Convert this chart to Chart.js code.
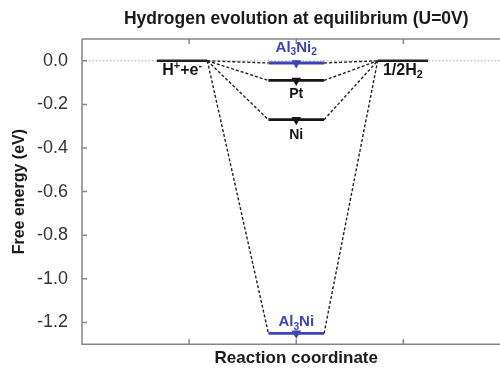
<!DOCTYPE html>
<html><head><meta charset="utf-8">
<script src="https://cdn.jsdelivr.net/npm/chart.js@4/dist/chart.umd.min.js"></script>
<style>html,body{margin:0;padding:0;background:#fff;overflow:hidden;width:500px;height:369px}#wrap{width:500px;height:369px;overflow:hidden}canvas{display:block}</style>
</head><body><div id="wrap"><canvas id="c" width="516" height="369"></canvas></div>
<script>
// ---- data ----
const catalysts = ['Al3Ni2', 'Pt', 'Ni', 'Al3Ni'];
const deltaG = [-0.01, -0.09, -0.27, -1.25];          // eV, adsorbed H* level
const initialState = [0.70, 1.17];                    // H+ + e- level span (reaction coordinate)
const intermediateState = [1.74, 2.26];               // H* level span
const finalState = [2.76, 3.23];                      // 1/2 H2 level span
const referenceEnergy = 0;                            // eV of initial/final states
const yTickValues = [0.0, -0.2, -0.4, -0.6, -0.8, -1.0, -1.2];
const xTickValues = [1, 2, 3];
const xRange = [0, 4];
const yRange = [-1.3, 0.1];

// ---- styles ----
const FONT = '"Liberation Sans", Arial, Helvetica, sans-serif';
const BLUE = '#3a45b5';
const DARK = '#151515';
const catalystColor = { Al3Ni2: BLUE, Pt: DARK, Ni: DARK, Al3Ni: BLUE };
const catalystLabel = { Al3Ni2: { dy: -11, size: 15 }, Pt: { dy: 18, size: 14 }, Ni: { dy: 19, size: 14 }, Al3Ni: { dy: -7, size: 15 } };

Chart.defaults.font.family = FONT;

const mid = a => (a[0] + a[1]) / 2;
const datasets = [];

// y = 0 dotted reference
datasets.push({ data: [{ x: xRange[0], y: referenceEnergy }, { x: xRange[1], y: referenceEnergy }],
  showLine: true, borderColor: '#a8a8a8', borderWidth: 1, borderDash: [1.5, 2], pointRadius: 0, order: 9 });

// initial and final states
[initialState, finalState].forEach(s => datasets.push({
  data: [{ x: s[0], y: referenceEnergy }, { x: s[1], y: referenceEnergy }],
  showLine: true, borderColor: '#202020', borderWidth: 2.5, pointRadius: 0, order: 3 }));

catalysts.forEach((name, i) => {
  const E = deltaG[i];
  datasets.push({ data: [{ x: initialState[1], y: referenceEnergy }, { x: intermediateState[0], y: E }],
    showLine: true, borderColor: '#222', borderWidth: 1.4, borderDash: [3, 2], pointRadius: 0, order: 6 });
  datasets.push({ data: [{ x: intermediateState[1], y: E }, { x: finalState[0], y: referenceEnergy }],
    showLine: true, borderColor: '#222', borderWidth: 1.4, borderDash: [3, 2], pointRadius: 0, order: 6 });
  datasets.push({ data: [{ x: intermediateState[0], y: E }, { x: intermediateState[1], y: E }],
    showLine: true, borderColor: catalystColor[name], borderWidth: 2.8, pointRadius: 0, order: 2 });
  datasets.push({ data: [{ x: mid(intermediateState), y: E }], showLine: false,
    pointStyle: 'triangle', rotation: 180, pointRadius: 5.5, pointBorderWidth: 0,
    pointBackgroundColor: catalystColor[name], pointBorderColor: catalystColor[name], order: 1 });
});

function drawRich(ctx, segs, cx, baseY, size, color) {
  ctx.fillStyle = color; ctx.textAlign = 'left'; ctx.textBaseline = 'alphabetic';
  const parts = segs.map(s => {
    const fs = s[1] ? size * 0.68 : size;
    ctx.font = `bold ${fs}px ${FONT}`;
    return { t: s[0], k: s[1], fs, w: ctx.measureText(s[0]).width };
  });
  const total = parts.reduce((a, p) => a + p.w, 0);
  let x = cx - total / 2;
  for (const p of parts) {
    ctx.font = `bold ${p.fs}px ${FONT}`;
    const dy = p.k === 'sub' ? size * 0.22 : p.k === 'sup' ? -size * 0.38 : 0;
    ctx.fillText(p.t, x, baseY + dy);
    x += p.w;
  }
}
const chemSegs = name => name.split(/(\d+)/).filter(Boolean).map(t => /\d/.test(t) ? [t, 'sub'] : [t]);

const decor = {
  id: 'decor',
  afterDatasetsDraw(chart) {
    const { ctx, chartArea: a, scales: { x, y } } = chart;
    ctx.save();
    ctx.strokeStyle = '#858585'; ctx.lineWidth = 1.5;
    ctx.beginPath();
    ctx.moveTo(a.left, a.top); ctx.lineTo(a.right, a.top);
    ctx.moveTo(a.left, a.top); ctx.lineTo(a.left, a.bottom); ctx.lineTo(a.right, a.bottom);
    for (const t of y.ticks) { const py = y.getPixelForValue(t.value); ctx.moveTo(a.left, py); ctx.lineTo(a.left + 5, py); }
    for (const t of x.ticks) { const px = x.getPixelForValue(t.value);
      ctx.moveTo(px, a.top); ctx.lineTo(px, a.top + 5); ctx.moveTo(px, a.bottom); ctx.lineTo(px, a.bottom - 5); }
    ctx.stroke();
    const y0 = y.getPixelForValue(referenceEnergy);
    drawRich(ctx, [['H'], ['+', 'sup'], ['+e'], ['-', 'sup']], x.getPixelForValue(mid(initialState)), y0 + 14, 16, DARK);
    drawRich(ctx, [['1/2H'], ['2', 'sub']], x.getPixelForValue(mid(finalState)), y0 + 14, 16, DARK);
    catalysts.forEach((name, i) => {
      const st = catalystLabel[name];
      drawRich(ctx, chemSegs(name), x.getPixelForValue(mid(intermediateState)), y.getPixelForValue(deltaG[i]) + st.dy, st.size, catalystColor[name]);
    });
    ctx.restore();
  }
};

new Chart(document.getElementById('c'), {
  type: 'scatter',
  data: { datasets },
  options: {
    responsive: false, animation: false, devicePixelRatio: 1,
    layout: { padding: 0 },
    plugins: {
      legend: { display: false }, tooltip: { enabled: false },
      title: { display: true, text: 'Hydrogen evolution at equilibrium (U=0V)', fullSize: false,
        font: { size: 17.5, weight: 'bold', lineHeight: 1.2 }, color: '#1a1a1a', padding: { top: 9, bottom: 9 } }
    },
    scales: {
      x: { type: 'linear', min: xRange[0], max: xRange[1],
        afterBuildTicks: s => { s.ticks = xTickValues.map(v => ({ value: v })); },
        afterFit: s => { s.height = 24; },
        grid: { display: false, drawTicks: false }, border: { display: false },
        ticks: { display: false },
        title: { display: true, text: 'Reaction coordinate', font: { size: 17, weight: 'bold', lineHeight: 1 }, color: '#1a1a1a', padding: { top: 0, bottom: 1 } } },
      y: { type: 'linear', min: yRange[0], max: yRange[1],
        afterBuildTicks: s => { s.ticks = yTickValues.map(v => ({ value: v })); },
        afterFit: s => { s.width = 82; },
        grid: { display: false, drawTicks: false }, border: { display: false },
        ticks: { padding: 14, color: '#333', font: { size: 18 }, callback: v => Number(v).toFixed(1) },
        title: { display: true, text: 'Free energy (eV)', font: { size: 16, weight: 'bold', lineHeight: 1 }, color: '#1a1a1a', padding: { top: 12, bottom: 0 } } }
    }
  },
  plugins: [decor]
});
</script></body></html>
